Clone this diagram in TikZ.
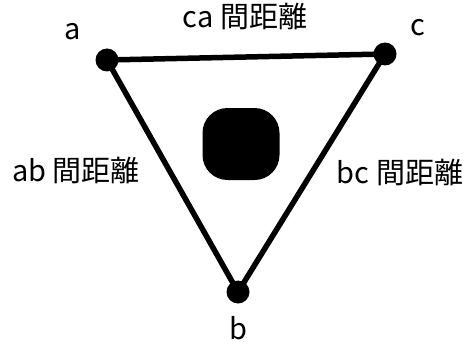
\documentclass[tikz,border=0pt]{standalone}
\usepackage{fontspec}
\newfontfamily\cjk{Noto Sans CJK JP}
\begin{document}
\begin{tikzpicture}[x=1pt,y=-1pt,
  vertex/.style={circle,fill=black,inner sep=0pt,minimum size=23pt},
  edge/.style={line width=5.5pt,line join=round},
  lbl/.style={font=\cjk\fontsize{29}{29}\selectfont,inner sep=0pt}]
  \useasboundingbox (0,0) rectangle (470,350);
  \node[vertex] (a) at (107,60) {};
  \node[vertex] (c) at (385,54) {};
  \node[vertex] (b) at (238,292) {};
  \draw[edge] (a.center) -- (c.center) -- (b.center) -- cycle;
  \node[fill=black,rounded corners=25pt,minimum width=77pt,minimum height=72pt] (hole) at (241,144) {};
  % labels
  \node[lbl] (la) at (73,32) {a};
  \node[lbl] (lc) at (418,28) {c};
  \node[lbl] (lb) at (238,328) {b};
  \node[lbl] (ca) at (245,16) {ca 間距離};
  \node[lbl] (ab) at (76,170) {ab 間距離};
  \node[lbl] (bc) at (400,172) {bc 間距離};
\end{tikzpicture}
\end{document}
